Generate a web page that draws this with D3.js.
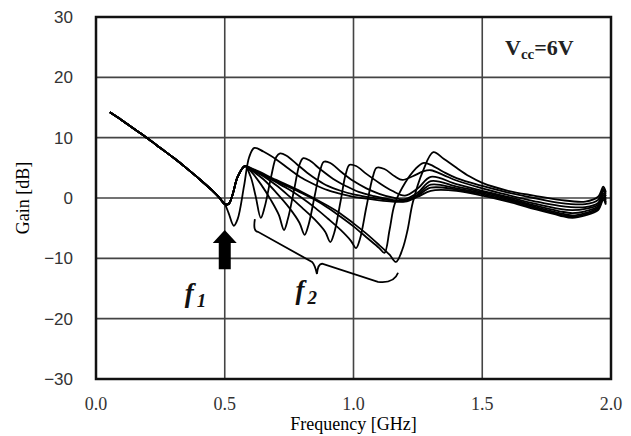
<!DOCTYPE html>
<html>
<head>
<meta charset="utf-8">
<script src="https://cdn.jsdelivr.net/npm/d3@7"></script>
<style>
  body { margin: 0; background: #fff; }
  svg { display: block; }
</style>
</head>
<body>
<div id="chart"></div>
<script>
// tick values
let xTicks = [0, 0.5, 1.0, 1.5, 2.0];
let yTicks = [-30, -20, -10, 0, 10, 20, 30];

// shared low-frequency part (GHz, dB)
let lowBand = [[0.054, 14.2], [0.1, 12.9], [0.15, 11.4], [0.2, 9.9], [0.25, 8.3], [0.3, 6.7],
    [0.35, 5.0], [0.4, 3.2], [0.45, 1.3], [0.48, 0.0], [0.5, -1.0]];

// each curve after 0.5 GHz, one per f2 setting
let curveA = [[0.515, -2.5], [0.535, -4.6], [0.55, -3.5], [0.575, 2.0], [0.595, 6.8], [0.615, 8.3],
    [0.65, 7.7], [0.7, 6.4], [0.75, 4.8], [0.8, 3.3], [0.85, 2.2], [0.9, 1.3], [0.95, 0.7], [1.0, 0.2],
    [1.05, -0.1], [1.1, -0.4], [1.15, -0.6], [1.2, -0.6], [1.25, 0.2], [1.3, 1.2], [1.4, 1.2], [1.5, 0.4],
    [1.6, -0.6], [1.7, -1.8], [1.8, -2.9], [1.85, -3.3], [1.9, -2.9], [1.95, -2.0], [1.97, -0.3], [1.98, -1.1]];
let curveB = [[0.515, -1.0], [0.53, 0.5], [0.55, 3.5], [0.578, 5.3], [0.6, 3.6], [0.62, 0.3], [0.64, -3.3],
    [0.655, -1.5], [0.68, 3.5], [0.7, 6.8], [0.715, 7.4], [0.74, 7.0], [0.78, 5.6], [0.82, 4.2], [0.86, 3.0],
    [0.9, 2.0], [0.95, 1.2], [1.0, 0.6], [1.05, 0.2], [1.1, -0.1], [1.15, -0.4], [1.2, -0.5], [1.25, 0.4],
    [1.3, 1.7], [1.4, 1.4], [1.5, 0.6], [1.6, -0.4], [1.7, -1.6], [1.8, -2.7], [1.85, -3.1], [1.9, -2.7],
    [1.95, -1.8], [1.97, 0.0], [1.98, -0.9]];
let curveC = [[0.515, -1.0], [0.53, 0.5], [0.55, 3.5], [0.578, 5.3], [0.6, 4.5], [0.64, 2.3], [0.68, -0.4],
    [0.71, -2.8], [0.73, -5.3], [0.745, -3.5], [0.77, 1.5], [0.79, 5.5], [0.805, 6.6], [0.83, 6.2],
    [0.87, 4.8], [0.92, 3.2], [0.97, 2.0], [1.02, 1.0], [1.08, 0.3], [1.15, -0.3], [1.2, -0.4], [1.25, 0.6],
    [1.3, 2.2], [1.4, 1.6], [1.5, 0.8], [1.6, -0.2], [1.7, -1.4], [1.8, -2.5], [1.85, -2.9], [1.9, -2.5],
    [1.95, -1.6], [1.97, 0.2], [1.98, -0.7]];
let curveD = [[0.515, -1.0], [0.53, 0.5], [0.55, 3.5], [0.578, 5.3], [0.6, 4.7], [0.65, 3.1], [0.7, 0.9],
    [0.75, -1.6], [0.79, -4.1], [0.81, -6.1], [0.825, -4.5], [0.85, 0.5], [0.87, 4.5], [0.885, 6.0],
    [0.91, 5.8], [0.95, 4.4], [1.0, 2.8], [1.05, 1.6], [1.1, 0.7], [1.15, 0.1], [1.2, -0.2], [1.25, 0.9],
    [1.3, 2.8], [1.4, 1.9], [1.5, 1.0], [1.6, 0.0], [1.7, -1.2], [1.8, -2.2], [1.85, -2.5], [1.9, -2.2],
    [1.95, -1.4], [1.97, 0.5], [1.98, -0.4]];
let curveE = [[0.515, -1.0], [0.53, 0.5], [0.55, 3.5], [0.578, 5.3], [0.6, 4.8], [0.65, 3.6], [0.7, 2.1],
    [0.75, 0.3], [0.8, -1.6], [0.85, -3.6], [0.89, -5.6], [0.91, -7.3], [0.925, -5.8], [0.95, -0.5],
    [0.97, 4.0], [0.985, 5.5], [1.01, 5.3], [1.05, 4.0], [1.1, 2.5], [1.15, 1.2], [1.2, 0.4], [1.25, 1.6],
    [1.3, 3.5], [1.4, 2.3], [1.5, 1.2], [1.6, 0.2], [1.7, -0.9], [1.8, -1.8], [1.85, -2.0], [1.9, -1.8],
    [1.95, -1.1], [1.97, 0.8], [1.98, -0.1]];
let curveF = [[0.515, -1.0], [0.53, 0.5], [0.55, 3.5], [0.578, 5.3], [0.6, 4.9], [0.7, 2.6], [0.75, 1.4],
    [0.8, 0.0], [0.85, -1.6], [0.9, -3.4], [0.95, -5.3], [0.99, -7.1], [1.01, -8.3], [1.025, -6.8],
    [1.05, -1.5], [1.075, 3.5], [1.09, 5.0], [1.12, 4.8], [1.16, 3.6], [1.19, 3.0], [1.23, 3.6], [1.27, 4.4],
    [1.3, 4.6], [1.35, 3.8], [1.4, 2.9], [1.5, 1.6], [1.6, 0.5], [1.7, -0.5], [1.8, -1.3], [1.9, -1.5],
    [1.95, -0.8], [1.97, 1.2], [1.98, 0.3]];
let curveG = [[0.515, -1.0], [0.53, 0.5], [0.55, 3.5], [0.578, 5.3], [0.6, 4.9], [0.7, 2.8], [0.8, 0.8],
    [0.85, -0.3], [0.9, -1.6], [0.95, -3.1], [1.0, -4.7], [1.05, -6.5], [1.1, -8.3], [1.12, -9.1],
    [1.14, -5.3], [1.16, -1.0], [1.2, 2.5], [1.24, 4.8], [1.27, 5.8], [1.3, 5.5], [1.35, 4.3], [1.4, 3.3],
    [1.5, 2.0], [1.6, 0.9], [1.7, 0.0], [1.8, -0.8], [1.9, -1.0], [1.95, -0.3], [1.97, 1.5], [1.98, 0.7]];
let curveH = [[0.515, -1.0], [0.53, 0.5], [0.55, 3.5], [0.578, 5.3], [0.6, 5.0], [0.7, 3.0], [0.8, 1.0],
    [0.9, -1.3], [0.95, -2.6], [1.0, -4.2], [1.05, -5.9], [1.1, -7.8], [1.14, -9.4], [1.165, -10.6],
    [1.19, -8.5], [1.21, -5.3], [1.23, -0.8], [1.27, 4.5], [1.31, 7.6], [1.35, 6.5], [1.4, 5.0],
    [1.45, 3.6], [1.5, 2.5], [1.6, 1.2], [1.7, 0.4], [1.8, -0.3], [1.9, -0.6], [1.95, 0.2], [1.97, 1.9],
    [1.98, 1.0]];

let curves = [curveA, curveB, curveC, curveD, curveE, curveF, curveG, curveH];

// annotation anchors in data units
let arrowAt = [0.5, -5.3, -11.8];
let bracePts = [[0.617, -3.5], [0.629, -5.6], [0.839, -10.6], [0.858, -12.6], [0.878, -10.9],
    [1.095, -13.9], [1.173, -12.4]];

let width = 631;
let height = 436;

let svg = d3.select('#chart')
    .append('svg')
    .attr('width', width)
    .attr('height', height);

let x = d3.scaleLinear().domain([0, 2]).range([96, 611]);
let y = d3.scaleLinear().domain([-30, 30]).range([379, 17]);

// grid
svg.append('g')
    .selectAll('line.v')
    .data(xTicks.slice(1, -1))
    .enter().append('line')
    .attr('x1', d => x(d)).attr('x2', d => x(d))
    .attr('y1', y(30)).attr('y2', y(-30))
    .attr('stroke', '#444').attr('stroke-width', 1.6);
svg.append('g')
    .selectAll('line.h')
    .data(yTicks.slice(1, -1))
    .enter().append('line')
    .attr('x1', x(0)).attr('x2', x(2))
    .attr('y1', d => y(d)).attr('y2', d => y(d))
    .attr('stroke', '#444').attr('stroke-width', 1.6);

// curves
let line = d3.line()
    .x(d => x(d[0]))
    .y(d => y(d[1]))
    .curve(d3.curveCatmullRom.alpha(0.5));

curves.forEach(function (c) {
    svg.append('path')
        .attr('d', line(lowBand.concat(c)))
        .attr('fill', 'none')
        .attr('stroke', '#000')
        .attr('stroke-width', 1.8);
});

// frame
svg.append('rect')
    .attr('x', x(0)).attr('y', y(30))
    .attr('width', x(2) - x(0)).attr('height', y(-30) - y(30))
    .attr('fill', 'none')
    .attr('stroke', '#111')
    .attr('stroke-width', 2.5);

// axes labels
svg.append('g')
    .selectAll('text')
    .data(xTicks)
    .enter().append('text')
    .attr('x', d => x(d))
    .attr('y', 410)
    .attr('text-anchor', 'middle')
    .style('font-family', 'Liberation Serif, serif')
    .style('font-size', '18px')
    .attr('fill', '#333')
    .text(d3.format('.1f'));

svg.append('g')
    .selectAll('text')
    .data(yTicks)
    .enter().append('text')
    .attr('x', 73)
    .attr('y', d => y(d) + 6)
    .attr('text-anchor', 'end')
    .style('font-family', 'Liberation Sans, sans-serif')
    .style('font-size', '17px')
    .attr('fill', '#333')
    .text(d => d < 0 ? '\u2212' + Math.abs(d) : d);

svg.append('text')
    .attr('x', (x(0) + x(2)) / 2)
    .attr('y', 430)
    .attr('text-anchor', 'middle')
    .style('font-family', 'Liberation Serif, serif')
    .style('font-size', '18px')
    .attr('fill', '#000')
    .text('Frequency [GHz]');

svg.append('text')
    .attr('transform', 'translate(29,' + y(0) + ') rotate(-90)')
    .attr('text-anchor', 'middle')
    .style('font-family', 'Liberation Serif, serif')
    .style('font-size', '18px')
    .attr('fill', '#000')
    .text('Gain [dB]');

// Vcc label
let vcc = svg.append('text')
    .attr('x', 505)
    .attr('y', 55)
    .style('font-family', 'Liberation Serif, serif')
    .style('font-weight', 'bold')
    .style('font-size', '22px')
    .attr('fill', '#222');
vcc.append('tspan').text('V');
vcc.append('tspan').attr('dy', 4).style('font-size', '15px').text('cc');
vcc.append('tspan').attr('dy', -4).text('=6V');

// f1 arrow
let ax = x(arrowAt[0]);
let yTip = y(arrowAt[1]);
let yEnd = y(arrowAt[2]);
let arrowPath = d3.path();
arrowPath.moveTo(ax, yTip);
arrowPath.lineTo(ax + 12, yTip + 13);
arrowPath.lineTo(ax + 6, yTip + 13);
arrowPath.lineTo(ax + 6, yEnd);
arrowPath.lineTo(ax - 6, yEnd);
arrowPath.lineTo(ax - 6, yTip + 13);
arrowPath.lineTo(ax - 12, yTip + 13);
arrowPath.closePath();
svg.append('path').attr('d', arrowPath.toString()).attr('fill', '#000');

// brace under the f2 notches
let b = bracePts.map(d => [x(d[0]), y(d[1])]);
let bp = d3.path();
bp.moveTo(b[0][0], b[0][1]);
bp.quadraticCurveTo(b[0][0] - 2, b[1][1], b[1][0], b[1][1]);
bp.lineTo(b[2][0], b[2][1]);
bp.quadraticCurveTo(b[3][0] - 2, b[2][1] + 3, b[3][0], b[3][1]);
bp.quadraticCurveTo(b[3][0] + 1, b[4][1], b[4][0], b[4][1]);
bp.lineTo(b[5][0], b[5][1]);
bp.quadraticCurveTo(b[6][0] - 4, b[5][1] + 2, b[6][0], b[6][1]);
svg.append('path').attr('d', bp.toString())
    .attr('fill', 'none').attr('stroke', '#000').attr('stroke-width', 1.8);

// f1 / f2 labels
function fLabel(px, py, sub) {
    let t = svg.append('text')
        .attr('x', px)
        .attr('y', py)
        .style('font-family', 'Liberation Serif, serif')
        .style('font-style', 'italic')
        .style('font-weight', 'bold')
        .style('font-size', '27px')
        .attr('fill', '#111');
    t.append('tspan').text('f');
    t.append('tspan').attr('dy', 5).attr('dx', 3).style('font-size', '19px').text(sub);
}
fLabel(x(0.345), y(-17.3), '1');
fLabel(x(0.775), y(-16.8), '2');
</script>
</body>
</html>
